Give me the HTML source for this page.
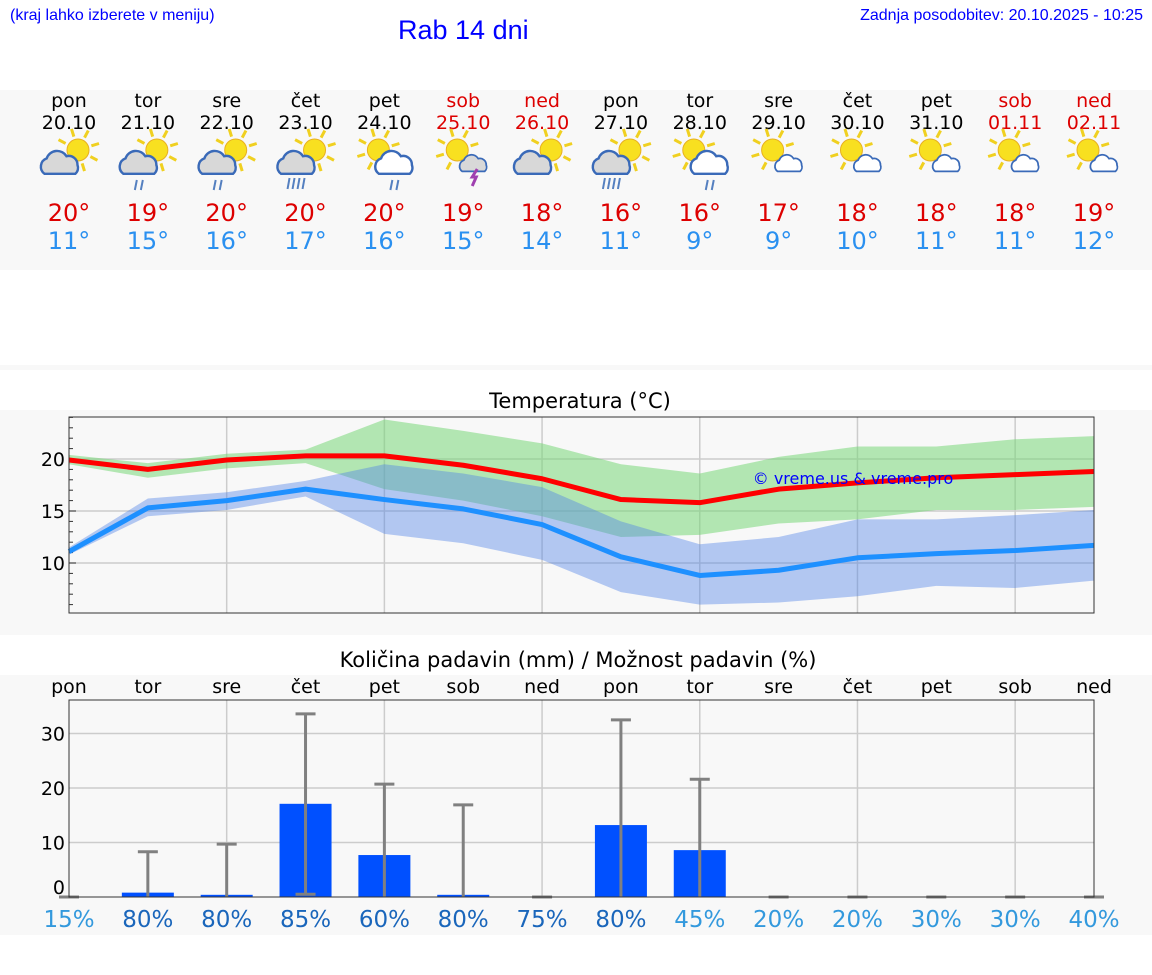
<!DOCTYPE html>
<html><head><meta charset="utf-8"><style>
body{margin:0;width:1152px;height:975px;background:#fff;position:relative;overflow:hidden;font-family:"DejaVu Sans","Liberation Sans",sans-serif}
.abs{position:absolute}
</style></head><body>
<div class="abs" style="left:10px;top:7px;font-size:16px;color:#00f;font-family:'Liberation Sans',sans-serif">(kraj lahko izberete v meniju)</div>
<div class="abs" style="left:398px;top:15px;font-size:27px;color:#00f;font-family:'Liberation Sans',sans-serif">Rab 14 dni</div>
<div class="abs" style="right:9px;top:7px;font-size:16px;color:#00f;font-family:'Liberation Sans',sans-serif">Zadnja posodobitev: 20.10.2025 - 10:25</div>
<svg id="s" class="abs" style="left:0;top:0" width="1152" height="975"></svg>
<script>
const days=["pon","tor","sre","čet","pet","sob","ned","pon","tor","sre","čet","pet","sob","ned"];
const dates=["20.10","21.10","22.10","23.10","24.10","25.10","26.10","27.10","28.10","29.10","30.10","31.10","01.11","02.11"];
const icons=["c","r","r","rr","cr","t","c","rr","cr","s","s","s","s","s"];
const tmaxLbl=[20,19,20,20,20,19,18,16,16,17,18,18,18,19];
const tminLbl=[11,15,16,17,16,15,14,11,9,9,10,11,11,12];
const tMax=[19.9,19.0,19.9,20.3,20.3,19.4,18.1,16.1,15.8,17.1,17.7,18.2,18.5,18.8];
const tMaxLo=[19.5,18.2,19.1,19.6,17.1,16.0,14.5,12.5,12.7,13.8,14.2,15.1,15.1,15.4];
const tMaxHi=[20.4,19.6,20.5,20.9,23.8,22.7,21.5,19.5,18.6,20.2,21.2,21.2,21.9,22.2];
const tMin=[11.1,15.3,16.0,17.1,16.1,15.2,13.7,10.6,8.8,9.3,10.5,10.9,11.2,11.7];
const tMinLo=[10.8,14.5,15.1,16.4,12.8,11.9,10.3,7.2,6.0,6.2,6.8,7.8,7.6,8.3];
const tMinHi=[11.5,16.2,16.8,17.9,19.5,18.6,17.3,14.0,11.8,12.5,14.2,14.2,14.6,15.1];
const tTicks=[10,15,20];
const rain=[0,0.8,0.4,17.1,7.7,0.4,0,13.2,8.6,0,0,0,0,0];
const rainLo=[0,0,0,0.5,0,0,0,0,0,0,0,0,0,0];
const rainHi=[0,8.3,9.7,33.6,20.7,16.9,0,32.5,21.6,0,0,0,0,0];
const pct=[15,80,80,85,60,80,75,80,45,20,20,30,30,40];
const rTicks=[0,10,20,30];

const S=document.getElementById('s');const NS='http://www.w3.org/2000/svg';
function el(t,a,p){const e=document.createElementNS(NS,t);for(const k in a)e.setAttribute(k,a[k]);(p||S).appendChild(e);return e;}
function tx(x,y,str,sz,fill,anchor){const e=el('text',{x:x,y:y,'font-size':sz,fill:fill,'text-anchor':anchor||'middle','font-family':'DejaVu Sans, Liberation Sans, sans-serif'});e.textContent=str;return e;}
const X0=69,X1=1094;
const xs=i=>X0+i*(X1-X0)/13;
let b=el('rect',{x:0,y:90,width:1152,height:180,fill:'#f8f8f8'});
el('rect',{x:0,y:365,width:1152,height:5,fill:'#f8f8f8'});
b=el('rect',{x:0,y:410,width:1152,height:225,fill:'#f8f8f8'});
b=el('rect',{x:0,y:675,width:1152,height:260,fill:'#f8f8f8'});

function icon(g,cx,cy,type){
  const sx=type==='c'||type==='r'||type==='rr'?cx+9:cx-6, sy=cy-10;
  for(let k=0;k<8;k++){const a=k*Math.PI/4-0.3;el('line',{x1:sx+Math.cos(a)*14,y1:sy+Math.sin(a)*14,x2:sx+Math.cos(a)*22,y2:sy+Math.sin(a)*22,stroke:'#f0d020','stroke-width':3},g);}
  el('circle',{cx:sx,cy:sy,r:11,fill:'#f8e020',stroke:'#e8b020','stroke-width':1},g);
  let ccx=type==='c'||type==='r'||type==='rr'?cx-8:cx+11, ccy=cy+5, f=type==='cr'||type==='s'?'#fff':'#d8d8d8';
  const sc=type==='s'||type==='t'?0.8:1.1;
  const cg=el('g',{transform:`translate(${ccx},${ccy}) scale(${sc})`},g);
  el('path',{d:'M-15,8 a8,8 0 0,1 2,-14 a10,10 0 0,1 18,-2 a8,8 0 0,1 10,8 a7,7 0 0,1 -2,8 z',fill:f,stroke:'#3a6ab8','stroke-width':2.2},cg);
  if(type==='r'||type==='cr'){el('path',{d:`M${ccx-3},${ccy+15} l-2,10 M${ccx+3},${ccy+15} l-2,10`,stroke:'#5580c0','stroke-width':2},g);}
  if(type==='rr'){el('path',{d:`M${ccx-8},${ccy+13} l-2,11 M${ccx-3},${ccy+13} l-2,11 M${ccx+2},${ccy+13} l-2,11 M${ccx+7},${ccy+13} l-2,11`,stroke:'#5580c0','stroke-width':2},g);}
  if(type==='t'){el('path',{d:`M${ccx+3},${ccy+4} l-5,8 h4 l-4,9`,stroke:'#a040b0','stroke-width':3,fill:'none'},g);}
}
for(let i=0;i<14;i++){
  const x=xs(i),we=(i%7===5||i%7===6);
  let t=tx(x,107,days[i],19,we?'#d00':'#000');
  t=tx(x,129,dates[i],19,we?'#d00':'#000');
  const g=el('g',{});
  icon(g,x,160,icons[i]);
  t=tx(x,221,tmaxLbl[i]+'°',24,'#d00');
  t=tx(x,249,tminLbl[i]+'°',24,'#2a90f0');
}
const TY0=417,TY1=613;
const ty=v=>459-(v-20)*10.4;
let t=tx(580,408,'Temperatura (°C)',21,'#000');
el('rect',{x:X0,y:TY0,width:X1-X0,height:TY1-TY0,fill:'#f8f8f8'});
for(let i=2;i<13;i+=2)el('line',{x1:xs(i),y1:TY0,x2:xs(i),y2:TY1,stroke:'#ccc','stroke-width':1.5});
tTicks.forEach(v=>{el('line',{x1:X0,y1:ty(v),x2:X1,y2:ty(v),stroke:'#ccc','stroke-width':1.5});let l=tx(X0-4,ty(v)+7,String(v),19,'#000','end');});
for(let v=6;v<=24;v++){if(ty(v)>TY0&&ty(v)<TY1)el('line',{x1:X0,y1:ty(v),x2:X0+(v%5?4:7),y2:ty(v),stroke:'#333'});}
function band(lo,hi,fill,name){let d='';for(let i=0;i<14;i++)d+=(i?'L':'M')+xs(i)+','+ty(hi[i]);for(let i=13;i>=0;i--)d+='L'+xs(i)+','+ty(lo[i]);const p=el('path',{d:d+'Z',fill:fill});}
function line(v,c,name){const p=el('polyline',{points:v.map((a,i)=>xs(i)+','+ty(a)).join(' '),fill:'none',stroke:c,'stroke-width':5,'stroke-linejoin':'round'});}
band(tMaxLo,tMaxHi,'rgba(120,215,120,0.55)','max-temp-range');
band(tMinLo,tMinHi,'rgba(80,130,230,0.42)','min-temp-range');
line(tMin,'#1e90ff','min-temp-line');
line(tMax,'#ff0000','max-temp-line');
t=tx(853,484,'© vreme.us & vreme.pro',16,'#00f');
el('rect',{x:X0,y:TY0,width:X1-X0,height:TY1-TY0,fill:'none',stroke:'#333'});
const PY0=700,PY1=897;
const py=v=>897-v*5.45;
t=tx(578,667,'Količina padavin (mm) / Možnost padavin (%)',21,'#000');
for(let i=0;i<14;i++){const l=tx(xs(i),693,days[i],19,'#000');}
el('rect',{x:X0,y:PY0,width:X1-X0,height:PY1-PY0,fill:'#f8f8f8'});
for(let i=2;i<13;i+=2)el('line',{x1:xs(i),y1:PY0,x2:xs(i),y2:PY1,stroke:'#ccc','stroke-width':1.5});
rTicks.forEach(v=>{if(v>0)el('line',{x1:X0,y1:py(v),x2:X1,y2:py(v),stroke:'#ccc','stroke-width':1.5});let l=tx(X0-4,py(v)+(v?7:-3),String(v),19,'#000','end');});
for(let i=0;i<14;i++){
  const x=xs(i);
  if(rain[i]>0){const r=el('rect',{x:x-26,y:py(rain[i]),width:52,height:PY1-py(rain[i]),fill:'#0050ff'});}
  const g=el('g',{stroke:'#808080','stroke-width':3});
  el('line',{x1:x,y1:py(rainLo[i]),x2:x,y2:py(rainHi[i])},g);
  el('line',{x1:x-10,y1:py(rainHi[i]),x2:x+10,y2:py(rainHi[i])},g);
  if(rainLo[i]>0)el('line',{x1:x-10,y1:py(rainLo[i]),x2:x+10,y2:py(rainLo[i])},g);
  const l=tx(x,927,pct[i]+'%',23,pct[i]>=60?'#1a66bb':'#3399dd');
}
el('rect',{x:X0,y:PY0,width:X1-X0,height:PY1-PY0,fill:'none',stroke:'#333'});
</script>
</body></html>
